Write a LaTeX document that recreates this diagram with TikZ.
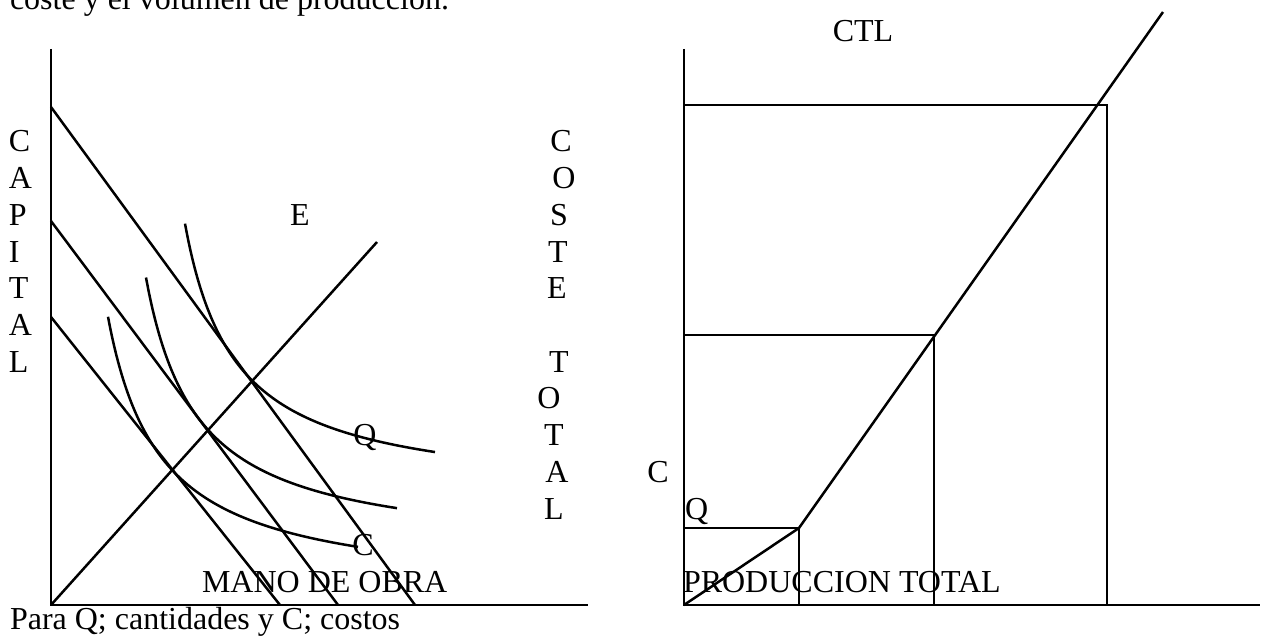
\documentclass[tikz,border=0pt]{standalone}
\usepackage{fontspec}
\setmainfont{Liberation Serif}
\begin{document}
\begin{tikzpicture}[x=1pt,y=-1pt,
  ln/.style={line width=2.5pt, line cap=butt, line join=miter},
  lbl/.style={inner sep=0pt, outer sep=0pt, anchor=base, font=\fontsize{32}{36.8}\selectfont},
  lblw/.style={lbl, anchor=base west}]
\useasboundingbox (0,0) rectangle (1262,636);

% ---------- top (cut) line of text
\node[lblw] (top) at (10,10) {coste y el volumen de producción.};

% ---------- left panel
\coordinate (O1) at (51,605);
\coordinate (Y1) at (51,49);
\coordinate (X1) at (588,605);
\draw[ln] (Y1) -- (O1) -- (X1);

\coordinate (b1s) at (51,107);  \coordinate (b1e) at (415,605);
\coordinate (b2s) at (51,221);  \coordinate (b2e) at (338,605);
\coordinate (b3s) at (51,317);  \coordinate (b3e) at (280,605);
\draw[ln] (b1s) -- (b1e);
\draw[ln] (b2s) -- (b2e);
\draw[ln] (b3s) -- (b3e);

\coordinate (E1) at (377,242);
\draw[ln] (O1) -- (E1);

% isoquants
\draw[ln] plot[domain=185:435, samples=80, smooth] (\x, {498 - 13800/(\x-134.7)});
\draw[ln] plot[domain=146:397, samples=80, smooth] (\x, {555 - 14150/(\x-95)});
\draw[ln] plot[domain=108:358, samples=80, smooth] (\x, {595 - 14550/(\x-55.7)});

% CAPITAL
\foreach \ch/\yy [count=\i] in {C/152, A/188.7, P/225.4, I/262.1, T/298.8, A/335.5, L/372.2}
  \node[lblw] (cap\i) at (9,\yy) {\ch};

\node[lbl] (lE) at (300,225.4) {E};
\node[lbl] (lQ1) at (365,445.6) {Q};
\node[lbl] (lC1) at (363,555.7) {C};
\node[lblw] (mano) at (202,592.4) {MANO DE OBRA};
\node[lblw] (para) at (10,629) {Para Q; cantidades y C; costos};

% COSTE TOTAL
\foreach \ch/\xx/\yy [count=\i] in {C/561/152, O/564/188.7, S/559/225.4, T/558/262.1, E/557/298.8,
   T/559/372.2, O/549/408.9, T/554/445.6, A/557/482.3, L/554/519}
  \node[lbl] (ct\i) at (\xx,\yy) {\ch};

% ---------- right panel
\coordinate (O2) at (684,605);
\coordinate (Y2) at (684,49);
\coordinate (X2) at (1260,605);
\draw[ln] (Y2) -- (O2) -- (X2);

\coordinate (s1) at (684,528);  \coordinate (s2) at (799,528);  \coordinate (s3) at (799,605);
\coordinate (m1) at (684,335);  \coordinate (m2) at (934,335);  \coordinate (m3) at (934,605);
\coordinate (g1) at (684,105);  \coordinate (g2) at (1107,105); \coordinate (g3) at (1107,605);
\draw[ln] (s1) -- (s2) -- (s3);
\draw[ln] (m1) -- (m2) -- (m3);
\draw[ln] (g1) -- (g2) -- (g3);

\coordinate (ctlEnd) at (1163,12);
\draw[ln] (O2) -- (s2) -- (ctlEnd);

\node[lbl] (ctl) at (863,42) {CTL};
\node[lbl] (lC2) at (658,482.3) {C};
\node[lblw] (lQ2) at (685,519) {Q};
\node[lblw] (prod) at (683,592.4) {PRODUCCION TOTAL};
\end{tikzpicture}
\end{document}
